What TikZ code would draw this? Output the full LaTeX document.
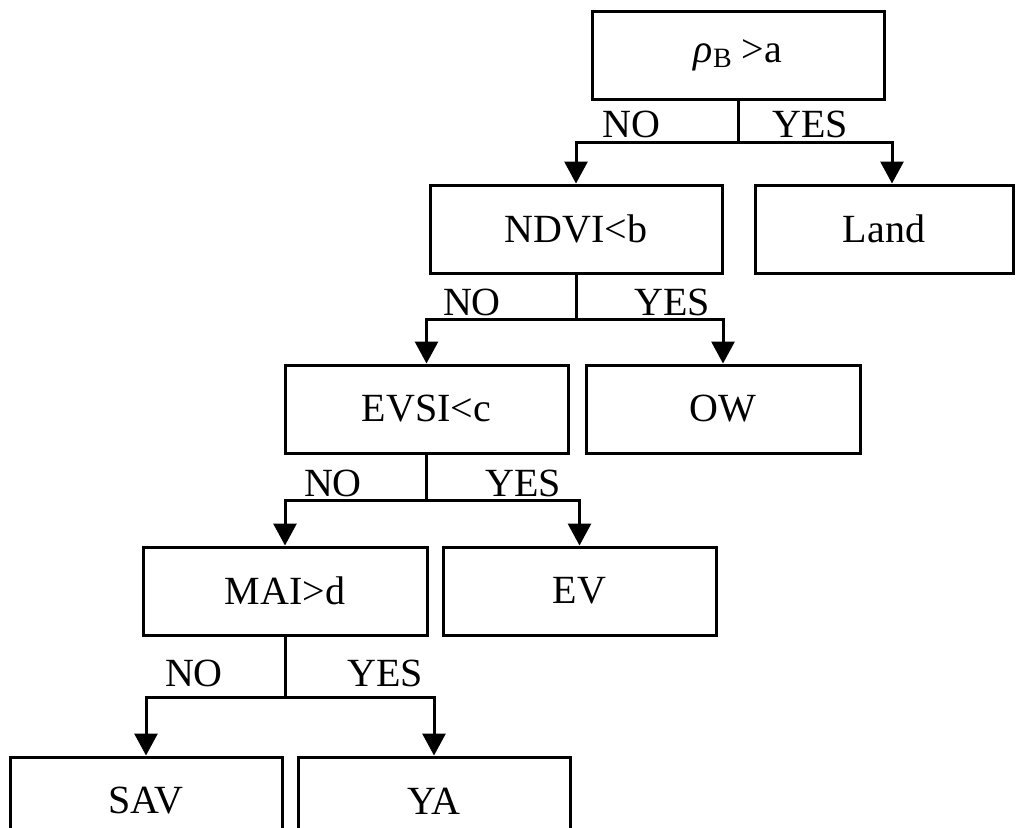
\documentclass[tikz,border=0pt]{standalone}
\usepackage{fontspec}
\setmainfont{Liberation Serif}
\usetikzlibrary{arrows.meta}
\begin{document}
\begin{tikzpicture}[x=0.5pt,y=-0.5pt,
  box/.style={draw, line width=1.5pt, minimum height=44pt, inner sep=0pt,
              font=\fontsize{20}{24}\selectfont},
  lbl/.style={inner sep=0pt, font=\fontsize{20}{24}\selectfont},
  stem/.style={line width=1.5pt},
  link/.style={line width=1.5pt, -{Triangle[length=11pt,width=11.5pt]}}]
\useasboundingbox (0,0) rectangle (1017,827);
\clip (0,0) rectangle (1017,827);

% decision and class boxes
\node[box, minimum width=146pt] (root) at (738,55)
  {{\itshape ρ}\raisebox{-.3ex}{\fontsize{14}{14}\selectfont B}\ >a};
\node[box, minimum width=146pt] (ndvi) at (576,229) {NDVI<b};
\node[box, minimum width=129pt] (land) at (884,229) {Land};
\node[box, minimum width=141.5pt] (evsi) at (426.5,409) {EVSI<c};
\node[box, minimum width=137pt] (ow) at (723,409) {OW};
\node[box, minimum width=142pt] (mai) at (285,591) {MAI>d};
\node[box, minimum width=136.5pt] (ev) at (579.5,591) {EV};
\node[box, minimum width=136pt] (sav) at (146,801) {SAV};
\node[box, minimum width=136pt] (ya) at (434,801) {YA};

% branch junctions
\coordinate (j1) at (738,142);
\coordinate (j2) at (576,319);
\coordinate (j3) at (426.5,500);
\coordinate (j4) at (285,697);

% connectors
\draw[stem] (root.south) -- (j1);
\draw[link] (j1) -| (ndvi.north);
\draw[link] (j1) -| ([xshift=4pt]land.north);
\draw[stem] (ndvi.south) -- (j2);
\draw[link] (j2) -| (evsi.north);
\draw[link] (j2) -| (ow.north);
\draw[stem] (evsi.south) -- (j3);
\draw[link] (j3) -| (mai.north);
\draw[link] (j3) -| (ev.north);
\draw[stem] (mai.south) -- (j4);
\draw[link] (j4) -| (sav.north);
\draw[link] (j4) -| (ya.north);

% branch labels
\node[lbl] (no1) at (631,124) {NO};
\node[lbl] (yes1) at (810,124) {YES};
\node[lbl] (no2) at (472,302) {NO};
\node[lbl] (yes2) at (672,302) {YES};
\node[lbl] (no3) at (333,483) {NO};
\node[lbl] (yes3) at (523,483) {YES};
\node[lbl] (no4) at (194,673) {NO};
\node[lbl] (yes4) at (385,673) {YES};
\end{tikzpicture}
\end{document}
